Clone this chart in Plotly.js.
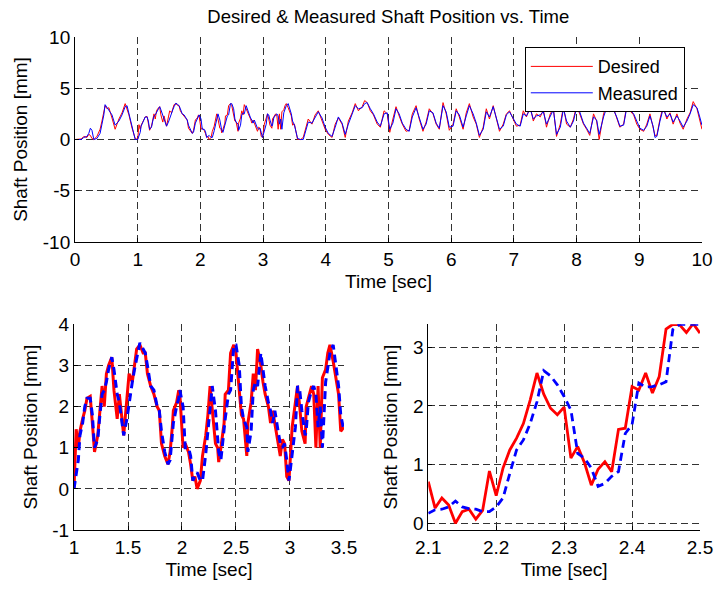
<!DOCTYPE html>
<html>
<head>
<meta charset="utf-8">
<script src="https://cdn.plot.ly/plotly-3.0.1.min.js"></script>
<style>html,body{margin:0;padding:0;background:#fff;}#chart{width:715px;height:590px;}</style>
</head>
<body>
<div id="chart"></div>
<script>
// ---- Data ----
// Segment 0 - 1 s (top plot only)
var tA = [0, 0.05, 0.10, 0.14, 0.19, 0.22, 0.245, 0.27, 0.30, 0.35, 0.40, 0.43, 0.46, 0.48, 0.51, 0.54, 0.59, 0.64, 0.70, 0.75, 0.80, 0.83, 0.86, 0.91, 0.96];
var desiredA = [0, 0, 0.05, 0.3, 0.2, 0.5, 0.4, 0.1, 0.0, 0.3, 1.0, 1.8, 2.6, 3.3, 3.0, 3.1, 2.1, 1.0, 2.0, 2.6, 3.5, 2.9, 2.4, 1.1, 0.1];
var measuredA = [0, 0, 0, 0.2, 0.3, 0.6, 1.1, 0.9, 0.0, 0.1, 0.6, 1.5, 2.4, 3.4, 3.1, 2.8, 2.4, 1.4, 1.8, 2.4, 3.2, 3.3, 2.6, 1.4, 0.0];

// Segment 1 - 3.5 s (bottom-left plot, also part of top plot)
var tL = [1.00,1.02,1.04,1.055,1.08,1.10,1.12,1.15,1.17,1.19,1.22,1.24,1.26,1.28,1.30,1.32,1.35,1.37,1.40,1.42,1.44,1.46,1.49,1.51,1.54,1.56,1.58,1.61,1.64,1.66,1.68,1.71,1.74,1.77,1.79,1.81,1.84,1.87,1.89,1.91,1.92,1.95,1.97,1.98,2.01,2.03,2.06,2.08,2.10,2.12,2.14,2.17,2.19,2.22,2.24,2.26,2.28,2.31,2.33,2.34,2.36,2.39,2.40,2.43,2.45,2.48,2.50,2.53,2.55,2.57,2.60,2.61,2.64,2.66,2.68,2.70,2.73,2.75,2.77,2.80,2.82,2.84,2.86,2.89,2.91,2.93,2.95,2.97,2.99,3.00,3.02,3.05,3.07,3.09,3.11,3.14,3.15,3.17,3.20,3.22,3.24,3.26,3.28,3.30,3.33,3.35,3.37,3.40,3.42,3.45,3.47,3.50];
var desiredL = [0,1.45,1.0,1.4,1.7,1.9,2.2,2.25,1.6,0.9,1.3,2.0,2.5,2.0,2.8,3.0,3.2,2.4,1.7,2.3,1.8,1.3,2.2,2.8,2.6,3.0,3.4,3.5,3.3,3.3,2.8,2.5,2.3,2.0,1.9,1.1,0.8,0.6,0.9,1.5,1.9,2.1,2.4,2.3,1.0,1.1,0.9,0.6,0.2,0.3,0.0,0.2,0.8,1.3,1.8,2.5,2.0,1.1,1.0,0.65,1.0,1.6,2.3,2.4,3.3,3.5,3.3,2.5,1.8,1.7,0.8,1.6,2.1,2.8,2.4,3.4,3.0,2.6,2.3,2.0,1.6,1.9,1.6,1.1,0.8,1.2,1.1,0.3,0.2,0.6,1.5,2.1,2.5,2.0,1.4,1.1,2.0,2.2,2.5,2.3,1.0,2.5,1.0,2.7,2.9,3.3,3.5,3.1,2.8,2.3,1.4,1.5];
var measuredL = [0,0.3,0.7,1.3,1.6,2.0,2.2,2.2,1.8,1.0,1.2,1.8,2.3,2.4,2.6,2.9,3.2,2.9,2.3,2.1,1.7,1.3,1.7,2.1,2.6,2.9,3.2,3.55,3.4,3.3,3.0,2.5,2.4,2.0,1.9,1.4,0.9,0.6,0.7,1.2,1.6,2.0,2.2,2.4,2.0,1.0,1.0,0.8,0.2,0.3,0.4,0.2,0.2,0.85,1.4,2.1,2.5,1.9,1.1,0.9,0.7,1.5,1.7,2.3,2.4,3.5,3.5,3.0,2.0,1.7,1.5,0.9,1.4,2.4,2.6,2.5,3.3,2.9,2.5,2.1,1.9,1.6,1.9,1.4,1.1,1.0,1.1,0.7,0.2,0.4,0.8,1.5,2.5,2.4,1.9,1.3,1.4,2.1,2.4,2.5,2.3,1.5,2.0,1.0,2.6,3.0,3.3,3.5,3.1,2.5,1.8,1.4];

// Segment 3.5 - 10 s (top plot only)
var tB = [3.55,3.60,3.64,3.67,3.72,3.78,3.83,3.88,3.94,3.99,4.04,4.10,4.15,4.20,4.26,4.31,4.36,4.42,4.47,4.52,4.58,4.62,4.66,4.71,4.76,4.82,4.87,4.93,4.98,5.02,5.07,5.12,5.17,5.22,5.28,5.33,5.38,5.44,5.49,5.55,5.60,5.65,5.71,5.76,5.81,5.87,5.92,5.97,6.03,6.08,6.13,6.19,6.24,6.29,6.35,6.40,6.45,6.51,6.56,6.61,6.67,6.72,6.77,6.83,6.88,6.93,6.99,7.04,7.10,7.15,7.20,7.26,7.31,7.36,7.42,7.47,7.52,7.58,7.63,7.68,7.74,7.79,7.84,7.90,7.95,8.00,8.05,8.11,8.16,8.21,8.27,8.32,8.36,8.43,8.48,8.53,8.59,8.64,8.69,8.75,8.80,8.85,8.91,8.96,9.01,9.07,9.12,9.17,9.22,9.25,9.28,9.33,9.38,9.44,9.49,9.54,9.60,9.65,9.70,9.76,9.81,9.86,9.92,9.96,10.00];
var desiredB = [0.0,0.0,0.2,0.9,2.0,1.5,2.4,2.8,1.8,1.0,0.5,0.2,1.5,2.1,1.5,0.2,1.8,2.6,3.5,2.8,3.2,3.8,3.6,2.8,2.4,1.5,1.2,2.8,2.5,0.7,2.0,3.2,2.3,1.5,0.8,0.9,2.5,3.3,2.0,0.8,1.7,3.0,2.5,1.5,1.0,3.6,2.5,0.9,1.5,3.0,2.2,1.0,2.6,3.5,2.2,1.5,0.2,1.2,3.0,2.0,3.3,2.0,0.8,1.5,2.5,2.8,2.0,1.3,1.4,2.8,2.2,3.2,1.8,2.5,2.2,2.9,1.2,2.5,3.0,0.3,1.5,3.2,1.5,1.2,2.0,3.3,2.5,1.5,1.0,0.4,2.5,1.8,0.0,2.5,3.3,2.7,3.0,2.0,1.2,1.5,3.3,2.8,2.4,1.5,1.0,0.8,1.5,2.5,1.0,0.4,0.4,2.0,3.2,2.0,2.6,1.5,2.5,1.6,1.0,2.0,2.6,3.7,3.0,2.0,1.0];
var measuredB = [0.1,0.0,0.0,0.6,1.7,1.6,2.2,2.7,2.1,1.2,0.6,0.3,1.2,2.2,1.6,0.5,1.5,2.5,3.3,3.0,3.1,3.5,3.6,3.0,2.5,1.7,1.3,2.5,2.6,1.0,1.6,3.0,2.5,1.6,1.0,0.8,2.2,3.1,2.2,1.0,1.5,2.8,2.6,1.6,1.1,3.3,2.7,1.2,1.3,2.8,2.4,1.2,2.3,3.3,2.5,1.6,0.4,1.0,2.7,2.2,3.2,2.2,1.0,1.3,2.4,2.7,2.1,1.5,1.3,2.5,2.3,3.0,2.0,2.3,2.4,2.7,1.5,2.2,2.9,0.5,1.2,3.0,1.8,1.2,1.8,3.1,2.7,1.6,1.1,0.6,2.2,1.9,0.5,2.2,3.1,2.8,2.9,2.2,1.3,1.4,3.1,2.9,2.5,1.7,1.1,0.9,1.3,2.3,1.3,0.2,0.3,1.8,3.0,2.2,2.5,1.7,2.3,1.8,1.2,1.8,2.5,3.4,3.1,2.3,1.4];

// Zoomed segment 2.1 - 2.5 s (bottom-right plot), 0.01 s samples
var tR = [2.10,2.11,2.12,2.13,2.14,2.15,2.16,2.17,2.18,2.19,2.20,2.21,2.22,2.23,2.24,2.25,2.26,2.27,2.28,2.29,2.30,2.31,2.32,2.33,2.34,2.35,2.36,2.37,2.38,2.39,2.40,2.41,2.42,2.43,2.44,2.45,2.46,2.47,2.48,2.49,2.50];
var desiredR = [0.71,0.26,0.43,0.31,0.0,0.2,0.24,0.07,0.22,0.89,0.47,0.94,1.25,1.45,1.70,2.10,2.56,2.20,1.96,1.85,1.98,1.11,1.31,1.03,0.65,0.92,1.05,0.88,1.60,1.62,2.33,2.27,2.56,2.22,2.50,3.31,3.39,3.38,3.25,3.40,3.24];
var measuredR = [0.17,0.23,0.24,0.28,0.38,0.28,0.25,0.24,0.2,0.2,0.28,0.43,0.85,1.25,1.42,1.70,2.07,2.60,2.51,2.36,2.16,1.93,1.19,1.11,0.94,0.63,0.68,0.80,0.88,1.53,1.68,2.39,2.32,2.33,2.36,2.41,3.30,3.39,3.39,3.39,3.39];

// Tick labels
var yTopTicks = [-10, -5, 0, 5, 10];
var yTopLabels = ["-10", "-5", "0", "5", "10"];
var yLeftTicks = [-1, 0, 1, 2, 3, 4];
var yLeftLabels = ["-1", "0", "1", "2", "3", "4"];
var yRightTicks = [0, 1, 2, 3];
var yRightLabels = ["0", "1", "2", "3"];

var titleText = "Desired & Measured Shaft Position vs. Time";
var xTitle = "Time [sec]";
var yTitle = "Shaft Position [mm]";
var seriesNames = ["Desired", "Measured"];

// ---- Build ----
var tTop = tA.concat(tL, tB);
var dTop = desiredA.concat(desiredL, desiredB);
var mTop = measuredA.concat(measuredL, measuredB);

var RED = "#ff0000", BLUE = "#0000ff";
var FONT = "Liberation Sans, Arial, Helvetica, sans-serif";
var FS = 19;

var traces = [
  {x: tTop, y: dTop, type: "scatter", mode: "lines", name: seriesNames[0], line: {color: RED, width: 1}, xaxis: "x", yaxis: "y"},
  {x: tTop, y: mTop, type: "scatter", mode: "lines", name: seriesNames[1], line: {color: BLUE, width: 1}, xaxis: "x", yaxis: "y"},
  {x: tL, y: desiredL, type: "scatter", mode: "lines", showlegend: false, line: {color: RED, width: 3}, xaxis: "x2", yaxis: "y2"},
  {x: tL, y: measuredL, type: "scatter", mode: "lines", showlegend: false, line: {color: BLUE, width: 3, dash: "8px,5px"}, xaxis: "x2", yaxis: "y2"},
  {x: tR, y: desiredR, type: "scatter", mode: "lines", showlegend: false, line: {color: RED, width: 2.8}, xaxis: "x3", yaxis: "y3"},
  {x: tR, y: measuredR, type: "scatter", mode: "lines", showlegend: false, line: {color: BLUE, width: 2.8, dash: "8px,5px"}, xaxis: "x3", yaxis: "y3"}
];

function ax(extra) {
  var base = {
    showline: true, linecolor: "#000", linewidth: 1, mirror: false,
    ticks: "inside", ticklen: 4, tickcolor: "#000",
    showgrid: true, gridcolor: "#333", griddash: "7px,4px", gridwidth: 1,
    zeroline: false, automargin: false,
    tickfont: {family: FONT, size: FS, color: "#000"}
  };
  for (var k in extra) base[k] = extra[k];
  return base;
}

var layout = {
  width: 715, height: 590,
  margin: {l: 0, r: 0, t: 0, b: 0},
  paper_bgcolor: "#fff", plot_bgcolor: "#fff",
  font: {family: FONT, size: FS, color: "#000"},
  title: {text: titleText, font: {family: FONT, size: 18.5, color: "#000"}, x: 0.543, xanchor: "center", y: 0.972, yanchor: "middle"},
  showlegend: true,
  legend: {x: 0.734, y: 0.920, xanchor: "left", yanchor: "top", bgcolor: "#fff", bordercolor: "#000", borderwidth: 1,
           font: {family: FONT, size: 18, color: "#000"}, tracegroupgap: 0, itemwidth: 62},
  xaxis: ax({domain: [0.1049, 0.9818], range: [0, 10], dtick: 1, tick0: 0, anchor: "y",
             title: {text: xTitle, font: {family: FONT, size: FS}, standoff: 5}}),
  yaxis: ax({domain: [0.5898, 0.9373], range: [-10, 10], tickvals: yTopTicks, ticktext: yTopLabels, anchor: "x",
             title: {text: yTitle, font: {family: FONT, size: FS}, standoff: 10}}),
  xaxis2: ax({domain: [0.1035, 0.4811], range: [1, 3.5], dtick: 0.5, tick0: 1, anchor: "y2",
              title: {text: xTitle, font: {family: FONT, size: FS}, standoff: 5}}),
  yaxis2: ax({domain: [0.1017, 0.4503], range: [-1, 4], tickvals: yLeftTicks, ticktext: yLeftLabels, anchor: "x2",
              title: {text: yTitle, font: {family: FONT, size: FS}, standoff: 9}}),
  xaxis3: ax({domain: [0.599, 0.979], range: [2.1, 2.5], dtick: 0.1, tick0: 2.1, anchor: "y3",
              title: {text: xTitle, font: {family: FONT, size: FS}, standoff: 5}}),
  yaxis3: ax({domain: [0.1017, 0.4503], range: [-0.114, 3.39], tickvals: yRightTicks, ticktext: yRightLabels, anchor: "x3",
              title: {text: yTitle, font: {family: FONT, size: FS}, standoff: 10}})
};

Plotly.newPlot("chart", traces, layout, {staticPlot: true, displayModeBar: false});
</script>
</body>
</html>
